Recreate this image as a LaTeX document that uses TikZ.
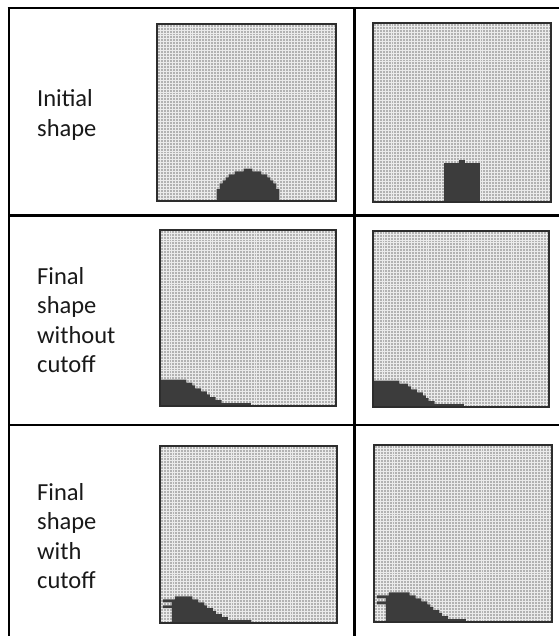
\documentclass[tikz,border=0pt]{standalone}
\usepackage{fontspec}
\setmainfont{Carlito}
\definecolor{cellgray}{RGB}{178,178,178}
\definecolor{gridwhite}{RGB}{235,235,235}
\definecolor{darkfill}{RGB}{60,60,60}
\definecolor{panelborder}{RGB}{45,45,45}
\definecolor{textcol}{RGB}{25,25,25}
\tikzset{
  tableline/.style={line width=2.6pt, black},
  gridline/.style={line width=0.6pt, gridwhite},
  paneledge/.style={line width=1.3pt, panelborder},
  darkshape/.style={fill=darkfill},
  rowlabel/.style={anchor=west, inner sep=0pt, align=left, text=textcol,
    font=\fontsize{24.5}{29.5}\selectfont}
}
\newcommand\gridpanel[5]{%
  \begin{scope}[shift={(#1pt,#2pt)}, x=#3pt, y=#4pt]
    \fill[cellgray] (0,0) rectangle (60,60);
    \foreach \i in {1,...,59} {
      \draw[gridline] (\i,0) -- (\i,60);
      \draw[gridline] (0,\i) -- (60,\i);
    }
    #5
    \draw[paneledge] (0,0) rectangle (60,60);
  \end{scope}}
\begin{document}
\begin{tikzpicture}[x=1pt,y=1pt]
\useasboundingbox (0,0) rectangle (559,636);
\fill[white] (0,0) rectangle (559,636);

% table rules
\coordinate (tl) at (9,628);
\coordinate (tr) at (559,628);
\coordinate (bl) at (9,0);
\coordinate (ct) at (354.5,628);
\coordinate (cb) at (354.5,0);
\coordinate (r1l) at (9,420.4);
\coordinate (r1r) at (559,420.4);
\coordinate (r2l) at (9,211);
\coordinate (r2r) at (559,211);
\draw[tableline] ([xshift=-1.3pt]tl) -- (tr);
\draw[tableline] (tl) -- (bl);
\draw[tableline] (ct) -- (cb);
\draw[tableline] (r1l) -- (r1r);
\draw[tableline] (r2l) -- (r2r);

% labels
\node[rowlabel] (lab1) at (37,521) {Initial\\shape};
\node[rowlabel] (lab2) at (37,316) {Final\\shape\\without\\cutoff};
\node[rowlabel] (lab3) at (37,100) {Final\\shape\\with\\cutoff};

% row 1: initial shapes
\gridpanel{157}{435}{2.983}{2.95}{%
  \fill[darkshape] (20,0) -- (20,4) -- (21,4) -- (21,6) -- (22,6) -- (22,7) -- (23,7) -- (23,8) -- (24,8) -- (24,9) -- (26,9) -- (26,10) -- (29,10) -- (29,11) -- (32,11) -- (32,10) -- (35,10) -- (35,9) -- (37,9) -- (37,8) -- (38,8) -- (38,7) -- (39,7) -- (39,6) -- (40,6) -- (40,4) -- (41,4) -- (41,0) -- cycle;}
\gridpanel{373}{434}{2.967}{2.983}{%
  \fill[darkshape] (24,0) -- (24,13) -- (29,13) -- (29,14) -- (31,14) -- (31,13) -- (36,13) -- (36,0) -- cycle;}

% row 2: final without cutoff
\gridpanel{160}{230}{2.933}{2.933}{%
  \fill[darkshape] (0,0) -- (0,9) -- (9,9) -- (9,8) -- (11,8) -- (11,7) -- (12,7) -- (12,6) -- (14,6) -- (14,5) -- (16,5) -- (16,4) -- (17,4) -- (17,3) -- (19,3) -- (19,2) -- (21,2) -- (21,1) -- (31,1) -- (31,0) -- cycle;}
\gridpanel{373}{229}{2.933}{2.933}{%
  \fill[darkshape] (0,0) -- (0,9) -- (9,9) -- (9,8) -- (12,8) -- (12,7) -- (13,7) -- (13,6) -- (15,6) -- (15,5) -- (17,5) -- (17,4) -- (18,4) -- (18,3) -- (19,3) -- (19,2) -- (21,2) -- (21,1) -- (31,1) -- (31,0) -- cycle;}

% row 3: final with cutoff
\gridpanel{160}{13}{2.95}{2.95}{%
  \fill[darkshape] (4,0) -- (4,5) -- (1,5) -- (1,6) -- (4,6) -- (4,7) -- (1,7) -- (1,8) -- (5,8) -- (5,9) -- (11,9) -- (11,8) -- (13,8) -- (13,7) -- (15,7) -- (15,6) -- (16,6) -- (16,5) -- (18,5) -- (18,4) -- (19,4) -- (19,3) -- (21,3) -- (21,2) -- (23,2) -- (23,1) -- (31,1) -- (31,0) -- cycle;}
\gridpanel{374}{14}{2.967}{2.95}{%
  \fill[darkshape] (4,0) -- (4,6) -- (1,6) -- (1,7) -- (4,7) -- (4,8) -- (1,8) -- (1,9) -- (5,9) -- (5,10) -- (12,10) -- (12,9) -- (14,9) -- (14,8) -- (16,8) -- (16,7) -- (18,7) -- (18,6) -- (19,6) -- (19,5) -- (20,5) -- (20,4) -- (22,4) -- (22,3) -- (23,3) -- (23,2) -- (25,2) -- (25,1) -- (31,1) -- (31,0) -- cycle;}
\end{tikzpicture}
\end{document}
